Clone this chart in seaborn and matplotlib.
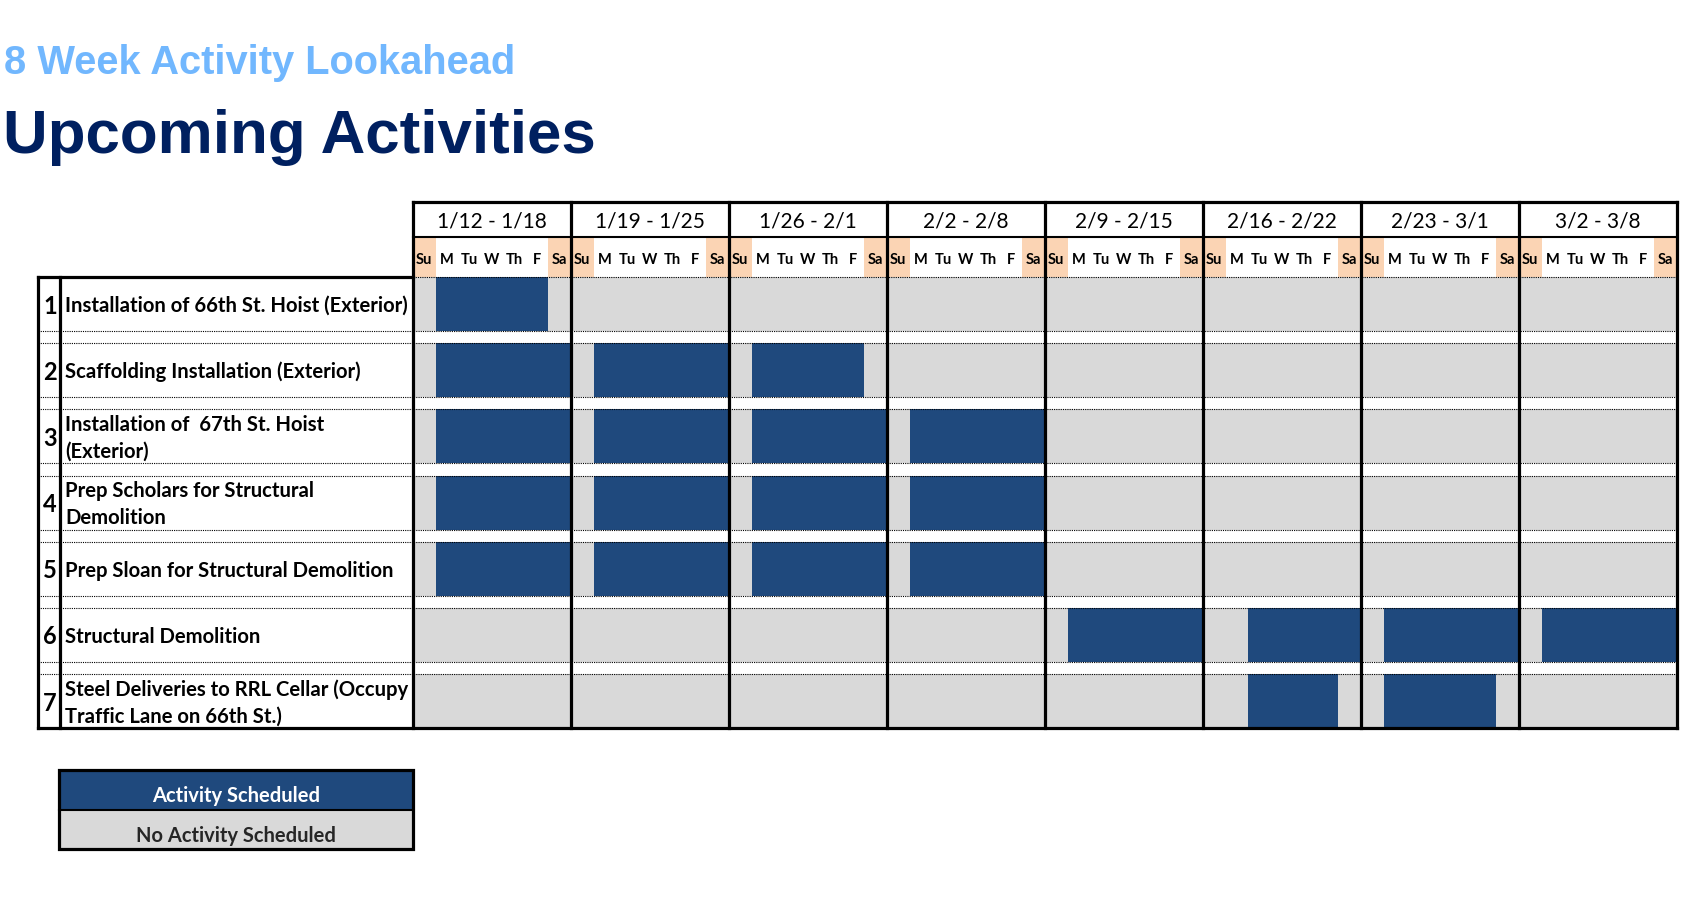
import numpy as np
import pandas as pd
import matplotlib
matplotlib.use("Agg")
import matplotlib.pyplot as plt
import seaborn as sns
from matplotlib.colors import ListedColormap
from matplotlib.patches import Rectangle

# ---------------- data ----------------
title_small = "8 Week Activity Lookahead"
title_big = "Upcoming Activities"
weeks = ["1/12 - 1/18", "1/19 - 1/25", "1/26 - 2/1", "2/2 - 2/8",
         "2/9 - 2/15", "2/16 - 2/22", "2/23 - 3/1", "3/2 - 3/8"]
day_names = ["Su", "M", "Tu", "W", "Th", "F", "Sa"]
weekend_days = ["Su", "Sa"]
activity_numbers = ["1", "2", "3", "4", "5", "6", "7"]
activities = [
    "Installation of 66th St. Hoist (Exterior)",
    "Scaffolding Installation (Exterior)",
    "Installation of  67th St. Hoist\n(Exterior)",
    "Prep Scholars for Structural\nDemolition",
    "Prep Sloan for Structural Demolition",
    "Structural Demolition",
    "Steel Deliveries to RRL Cellar (Occupy\nTraffic Lane on 66th St.)",
]
# scheduled spans: activity number, week index, first day index, last day index
span_activity = [1, 2, 2, 2, 3, 3, 3, 3, 4, 4, 4, 4, 5, 5, 5, 5, 6, 6, 6, 6, 7, 7]
span_week     = [0, 0, 1, 2, 0, 1, 2, 3, 0, 1, 2, 3, 0, 1, 2, 3, 4, 5, 6, 7, 5, 6]
span_first    = [1, 1, 1, 1, 1, 1, 1, 1, 1, 1, 1, 1, 1, 1, 1, 1, 1, 2, 1, 1, 2, 1]
span_last     = [5, 6, 6, 5, 6, 6, 6, 6, 6, 6, 6, 6, 6, 6, 6, 6, 6, 6, 6, 6, 5, 5]
legend_labels = ["Activity Scheduled", "No Activity Scheduled"]

# ---------------- style ----------------
NAVY = "#1F497D"
GRAY = "#D9D9D9"
PEACH = "#FBD4B4"
LIGHT_BLUE = "#71B7FE"
DARK_BLUE = "#002060"

sns.set_style("white")
plt.rcParams["font.family"] = ["Lato", "DejaVu Sans"]

W, H = 1701, 900
fig = plt.figure(figsize=(W / 100, H / 100), dpi=100)


def frac(x, y, w, h):
    return [x / W, 1 - (y + h) / H, w / W, h / H]


n_days = len(weeks) * len(day_names)
GX0, GX1 = 413, 1677
dw = (GX1 - GX0) / n_days
WK_TOP, DAY_TOP, HDR_BOT = 202, 237, 277
ROW_PITCH, ROW_H = 66.2, 54
TAB_L, NUM_R = 38, 60
BOTTOM = HDR_BOT + (len(activities) - 1) * ROW_PITCH + ROW_H

# schedule matrix
cols = [f"{wk} {d}" for wk in weeks for d in day_names]
sched = pd.DataFrame(0.0, index=activity_numbers, columns=cols)
for a, w, f, l in zip(span_activity, span_week, span_first, span_last):
    sched.iloc[a - 1, w * 7 + f: w * 7 + l + 1] = 1.0

cmap_sched = ListedColormap([GRAY, NAVY])
for i in range(len(activities)):
    top = HDR_BOT + i * ROW_PITCH
    ax = fig.add_axes(frac(GX0, top, GX1 - GX0, ROW_H))
    sns.heatmap(sched.iloc[[i]], ax=ax, cmap=cmap_sched, vmin=0, vmax=1,
                cbar=False, xticklabels=False, yticklabels=False, linewidths=0)
    ax.axis("off")

# day header shading
weekend = pd.DataFrame([[1.0 if d in weekend_days else 0.0
                         for wk in weeks for d in day_names]], columns=cols)
axd = fig.add_axes(frac(GX0, DAY_TOP, GX1 - GX0, HDR_BOT - DAY_TOP))
sns.heatmap(weekend, ax=axd, cmap=ListedColormap(["white", PEACH]), vmin=0, vmax=1,
            cbar=False, xticklabels=False, yticklabels=False, linewidths=0)
axd.axis("off")

# legend
leg = fig.add_axes(frac(59, 770, 354, 79))
leg_vals = pd.DataFrame([[1.0], [0.0]], index=legend_labels)
sns.heatmap(leg_vals, ax=leg, cmap=cmap_sched, vmin=0, vmax=1, cbar=False,
            annot=np.array([[legend_labels[0]], [legend_labels[1]]]), fmt="",
            annot_kws=dict(fontsize=14.5, fontweight="bold", va="center"),
            xticklabels=False, yticklabels=False, linewidths=0)
for t in leg.texts:
    x, y = t.get_position()
    t.set_position((x, y + 0.16))
leg.axis("off")

# ---------------- overlay canvas ----------------
cv = fig.add_axes([0, 0, 1, 1], zorder=10)
cv.set_xlim(0, W)
cv.set_ylim(H, 0)
cv.axis("off")

THICK = 2.3
MED = 1.5
DOT = 0.8


def hline(y, x0, x1, lw, ls="-"):
    cv.plot([x0, x1], [y, y], color="black", lw=lw, ls=ls, solid_capstyle="projecting")


def vline(x, y0, y1, lw):
    cv.plot([x, x], [y0, y1], color="black", lw=lw, solid_capstyle="projecting")


dotted = (0, (1, 1))
for i in range(len(activities)):
    top = HDR_BOT + i * ROW_PITCH
    bot = top + ROW_H
    if i > 0:
        hline(top, TAB_L, GX1, DOT, dotted)
    if i < len(activities) - 1:
        hline(bot, TAB_L, GX1, DOT, dotted)
hline(HDR_BOT, GX0, GX1, DOT, dotted)
hline(HDR_BOT, TAB_L, GX0, THICK)
hline(WK_TOP, GX0, GX1, THICK)
hline(DAY_TOP, GX0, GX1, MED)
hline(BOTTOM, TAB_L, GX1, THICK)
for k in range(len(weeks) + 1):
    vline(GX0 + k * 7 * dw, WK_TOP, BOTTOM, THICK)
vline(TAB_L, HDR_BOT, BOTTOM, THICK)
vline(NUM_R, HDR_BOT, BOTTOM, THICK)

# header text
for k, wk in enumerate(weeks):
    cv.text(GX0 + (k * 7 + 3.5) * dw, (WK_TOP + DAY_TOP) / 2 + 2, wk,
            ha="center", va="center", fontsize=15, color="black")
    for d, dn in enumerate(day_names):
        cv.text(GX0 + (k * 7 + d + 0.5) * dw, (DAY_TOP + HDR_BOT) / 2 + 3, dn,
                ha="center", va="center", fontsize=10.5, fontweight="bold", color="black")

# row text
for i, (num, act) in enumerate(zip(activity_numbers, activities)):
    cy = HDR_BOT + i * ROW_PITCH + ROW_H / 2
    cv.text((TAB_L + NUM_R) / 2 + 1, cy + 2, num, ha="center", va="center",
            fontsize=17, fontweight="bold", color="black")
    cv.text(65, cy + 2, act, ha="left", va="center", fontsize=14.6,
            fontweight="bold", color="black", linespacing=1.45)

# legend frame
cv.add_patch(Rectangle((59, 770), 354, 79, fill=False, ec="black", lw=THICK))
hline(810, 59, 413, MED)

# titles
cv.text(4, 74, title_small, ha="left", va="baseline", fontsize=28.7,
        fontweight="bold", color=LIGHT_BLUE, family=["Liberation Sans", "DejaVu Sans"])
cv.text(3, 153, title_big, ha="left", va="baseline", fontsize=44.6,
        fontweight="bold", color=DARK_BLUE, family=["Liberation Sans", "DejaVu Sans"])

fig.savefig("out.png", dpi=100)
